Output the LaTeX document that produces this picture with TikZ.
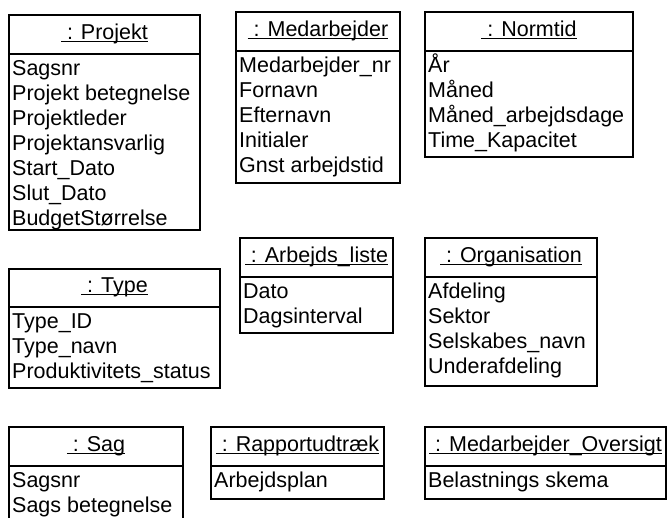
\documentclass[tikz,border=0pt]{standalone}
\usepackage{fontspec}
\setmainfont{Liberation Sans}
\begin{document}
% Object box: #1 name, #2 left, #3 top, #4 right, #5 header rule, #6 bottom, #7 title, #8 attributes
\newcommand\objtitle[1]{\setbox0\hbox{#1}\rlap{\rule[-3pt]{\wd0}{1.1pt}}\box0}
\newcommand\umlobject[8]{%
  \node[objbox, minimum width={#4-#2}, minimum height={#6-#3}, anchor=north west] (#1) at (#2,#3) {};
  \draw[boxline] (#1.west |- 0,#5) -- (#1.east |- 0,#5);
  \node[objtext, anchor=base] (#1-title) at ({(#2+#4)/2},{#5-14.5}) {\objtitle{\ : #7}};
  \foreach \a [count=\i] in {#8}
    \node[objtext, anchor=base west] (#1-\i) at ({#2+3},{#5+21.5+25*(\i-1)}) {\a};
}
\begin{tikzpicture}[x=1pt,y=-1pt,
  boxline/.style={line width=1.3pt, black},
  objbox/.style={draw=black, line width=1.3pt, rectangle, inner sep=0pt, outer sep=0pt, fill=none},
  objtext/.style={inner sep=0pt, font=\fontsize{21.5}{25}\selectfont, text=black}]
\fill[white] (0,0) rectangle (667,518);
\clip (0,0) rectangle (667,518);

\umlobject{projekt}{9}{15}{200}{54}{230}{Projekt}
  {Sagsnr, Projekt betegnelse, Projektleder, Projektansvarlig, Start\_Dato, Slut\_Dato, BudgetStørrelse}
\umlobject{medarbejder}{236}{12}{400}{51}{183}{Medarbejder}
  {Medarbejder\_nr, Fornavn, Efternavn, Initialer, Gnst arbejdstid}
\umlobject{normtid}{425}{12}{633}{51}{157}{Normtid}
  {År, Måned, Måned\_arbejdsdage, Time\_Kapacitet}

\umlobject{type}{9}{269}{220}{307}{388}{Type}
  {Type\_ID, Type\_navn, Produktivitets\_status}
\umlobject{arbejdsliste}{240}{238}{393}{277}{333}{Arbejds\_liste}
  {Dato, Dagsinterval}
\umlobject{organisation}{425}{238}{597}{277}{386}{Organisation}
  {Afdeling, Sektor, Selskabes\_navn, Underafdeling}

\umlobject{sag}{9}{427}{183}{466}{540}{Sag}
  {Sagsnr, Sags betegnelse}
\umlobject{rapport}{211}{427}{384}{466}{499}{Rapportudtræk}
  {Arbejdsplan}
\umlobject{oversigt}{425}{427}{666}{466}{499}{Medarbejder\_Oversigt}
  {Belastnings skema}
\end{tikzpicture}
\end{document}
